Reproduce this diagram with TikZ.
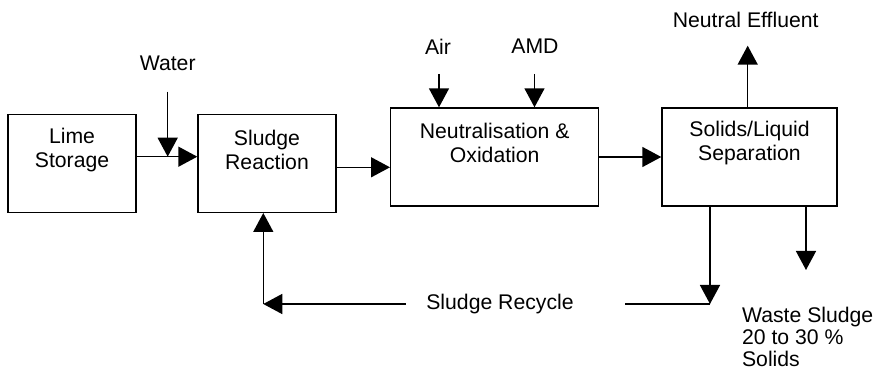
\documentclass[tikz,border=0pt]{standalone}
\usepackage{fontspec}
\setmainfont{Liberation Sans}
\usetikzlibrary{arrows.meta,positioning}
\tikzset{
  unit/.style={draw,line width=0.7pt,minimum height=49pt,inner sep=0pt},
  txt/.style={font=\fontsize{10.6}{12}\selectfont,align=center,inner sep=0pt},
  flow/.style={line width=0.75pt,-{Triangle[length=9.5pt,width=10pt]}},
  pipe/.style={line width=0.75pt}
}

\begin{document}
\begin{tikzpicture}[x=0.5pt,y=-0.5pt]
  \useasboundingbox (0,0) rectangle (875,373);
  % Process units
  \node[unit,minimum width=64pt] (lime) at (72,163.5) {};
  \node[unit,minimum width=69pt] (sludge) at (267,163.3) {};
  \node[unit,minimum width=104pt] (neut) at (494.7,157) {};
  \node[unit,minimum width=87.5pt] (solids) at (749.5,157) {};
  \node[txt] (limetxt) at ([yshift=-18pt]lime.north) {Lime\\Storage};
  \node[txt] (sludgetxt) at ([yshift=-18pt]sludge.north) {Sludge\\Reaction};
  \node[txt] (neuttxt) at ([yshift=-17.7pt]neut.north) {Neutralisation \&\\Oxidation};
  \node[txt] (solidstxt) at ([yshift=-17.7pt]solids.north) {Solids/Liquid\\Separation};
  % Stream labels
  \node[txt] (water) at (167.7,63) {Water};
  \node[txt] (air) at (438,46.7) {Air};
  \node[txt] (amd) at (535,46.7) {AMD};
  \node[txt] (effluent) at (745.7,20) {Neutral Effluent};
  \node[txt] (recycle) at (500,304) {Sludge Recycle};
  \node[txt,font=\fontsize{10.6}{11}\selectfont,align=left,anchor=west] (waste) at (741.7,337) {Waste Sludge\\20 to 30 \%\\Solids};
  % Free ends
  \coordinate (water-in) at (167.7,91.7);
  \coordinate (air-in) at (439,74);
  \coordinate (amd-in) at (534.5,74);
  \coordinate (eff-out) at (747.7,45.7);
  \coordinate (waste-out) at (806,270);
  \coordinate (rec-r) at (710,304);
  \coordinate (rec-l) at (263.3,304);
  \coordinate (gap-r) at (624.6,304);
  \coordinate (gap-l) at (405.7,304);
  % Main line
  \draw[flow] ([yshift=3.4pt]lime.east) -- ([yshift=3.4pt]lime.east -| sludge.west);
  \draw[flow] (water-in) -- ([yshift=3.4pt]lime.east -| water-in);
  \draw[flow] ([yshift=-2pt]sludge.east) -- ([yshift=-2pt]sludge.east -| neut.west);
  \draw[flow] (air-in) -- (air-in |- neut.north);
  \draw[flow] (amd-in) -- (amd-in |- neut.north);
  \draw[flow] (neut.east) -- (solids.west);
  \draw[flow] (eff-out |- solids.north) -- (eff-out);
  \draw[flow] (waste-out |- solids.south) -- (waste-out);
  % Recycle loop
  \draw[flow] (rec-r |- solids.south) -- (rec-r);
  \draw[pipe] (rec-r) -- (gap-r);
  \draw[flow] (gap-l) -- (rec-l);
  \draw[flow] (rec-l) -- (rec-l |- sludge.south);
\end{tikzpicture}
\end{document}
